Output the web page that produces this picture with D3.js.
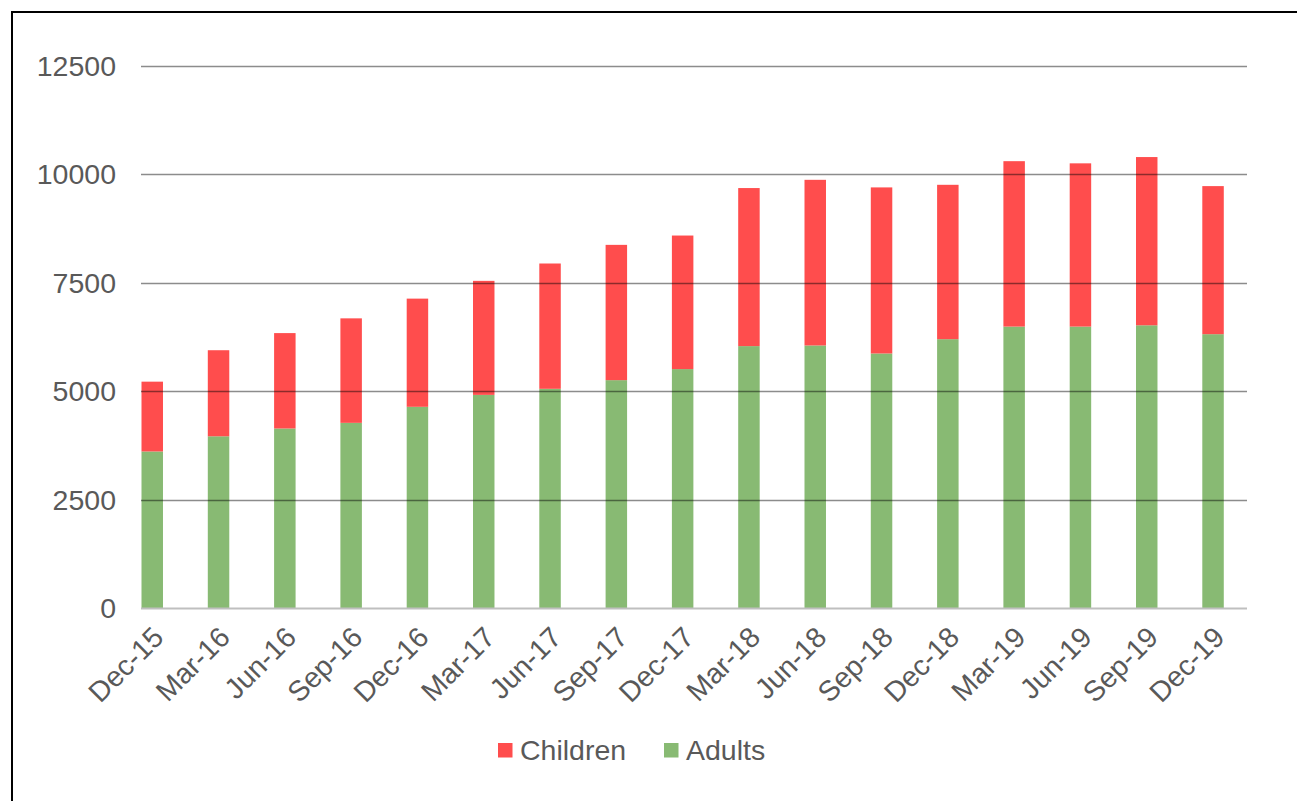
<!DOCTYPE html>
<html>
<head>
<meta charset="utf-8">
<script src="https://cdn.jsdelivr.net/npm/d3@7"></script>
<style>
  body { margin: 0; background: #fff; }
  svg { display: block; }
</style>
</head>
<body>
<div class="dataviz"></div>
<script>
// quarters on the x axis
const quarters = ["Dec-15", "Mar-16", "Jun-16", "Sep-16", "Dec-16", "Mar-17", "Jun-17", "Sep-17", "Dec-17",
    "Mar-18", "Jun-18", "Sep-18", "Dec-18", "Mar-19", "Jun-19", "Sep-19", "Dec-19"]
const adults = [3610, 3960, 4140, 4270, 4640, 4915, 5055, 5255, 5510, 6040, 6055, 5870, 6200, 6490, 6490, 6520, 6315]
const children = [1610, 1985, 2200, 2410, 2495, 2630, 2890, 3120, 3080, 3645, 3820, 3830, 3560, 3815, 3765, 3880, 3415]
const yTicks = [0, 2500, 5000, 7500, 10000, 12500]
const seriesNames = ["Children", "Adults"]

const width = 1297,
    height = 801
var margin = {
    top: 66,
    right: 50,
    bottom: 193,
    left: 141
}
const fontSize = 28.5
const textColor = "#595959"

var color = d3.scaleOrdinal()
    .domain(seriesNames)
    .range(["#ff4d4d", "#88ba73"])

var data = quarters.map((q, i) => ({quarter: q, Adults: adults[i], Children: children[i]}))
var stacked = d3.stack().keys(["Adults", "Children"])(data)

var x = d3.scaleBand()
    .domain(quarters)
    .range([margin.left + 0.5, margin.left + 0.5 + 66.3 * (quarters.length - 0.676)])
    .paddingInner(0.676)
    .paddingOuter(0)

var y = d3.scaleLinear()
    .domain([0, 12500])
    .range([height - margin.bottom, margin.top])

var svg = d3.select(".dataviz").append("svg")
    .attr("width", width)
    .attr("height", height)
    .attr("font-family", "'Liberation Sans', Arial, sans-serif")

// outer frame (only left and top show)
svg.append("path")
    .attr("d", `M12,${height + 5}V12H${width + 5}`)
    .attr("fill", "none")
    .attr("stroke", "#000")
    .attr("stroke-width", 2)

// bars
svg.append("g")
    .selectAll("g")
    .data(stacked)
    .join("g")
    .attr("fill", d => color(d.key))
    .selectAll("rect")
    .data(d => d)
    .join("rect")
    .attr("x", d => x(d.data.quarter))
    .attr("y", d => y(d[1]))
    .attr("width", x.bandwidth())
    .attr("height", d => y(d[0]) - y(d[1]))

// gridlines on top of the bars
var gridRight = width - margin.right
svg.append("g")
    .selectAll("line")
    .data(yTicks.filter(t => t > 0))
    .join("line")
    .attr("x1", margin.left)
    .attr("x2", gridRight)
    .attr("y1", d => Math.round(y(d)) + 0.5)
    .attr("y2", d => Math.round(y(d)) + 0.5)
    .attr("stroke", "#000")
    .attr("stroke-opacity", 0.45)
    .attr("stroke-width", 1.3)

// base axis
svg.append("line")
    .attr("x1", margin.left)
    .attr("x2", gridRight)
    .attr("y1", y(0) + 0.5)
    .attr("y2", y(0) + 0.5)
    .attr("stroke", "#bfbfbf")
    .attr("stroke-width", 2)

// y labels
svg.append("g")
    .attr("fill", textColor)
    .attr("font-size", fontSize)
    .attr("text-anchor", "end")
    .selectAll("text")
    .data(yTicks)
    .join("text")
    .attr("x", 116)
    .attr("y", d => y(d))
    .attr("dy", "0.35em")
    .text(d => d)

// x labels, rotated
svg.append("g")
    .attr("fill", textColor)
    .attr("font-size", fontSize)
    .attr("text-anchor", "end")
    .selectAll("text")
    .data(quarters)
    .join("text")
    .attr("transform", d => `translate(${x(d) + x.bandwidth() / 2 + 6},${y(0) + 24}) rotate(-45)`)
    .attr("dy", "0.35em")
    .text(d => d)

// legend
var legendX = {Children: 498, Adults: 664}
var legend = svg.append("g")
    .selectAll("g")
    .data(seriesNames)
    .join("g")
    .attr("transform", d => `translate(${legendX[d]},743)`)

legend.append("rect")
    .attr("width", 14.5)
    .attr("height", 14.5)
    .attr("fill", color)

legend.append("text")
    .attr("x", 22)
    .attr("y", 7.5)
    .attr("dy", "0.35em")
    .attr("fill", textColor)
    .attr("font-size", fontSize)
    .text(d => d)
</script>
</body>
</html>
